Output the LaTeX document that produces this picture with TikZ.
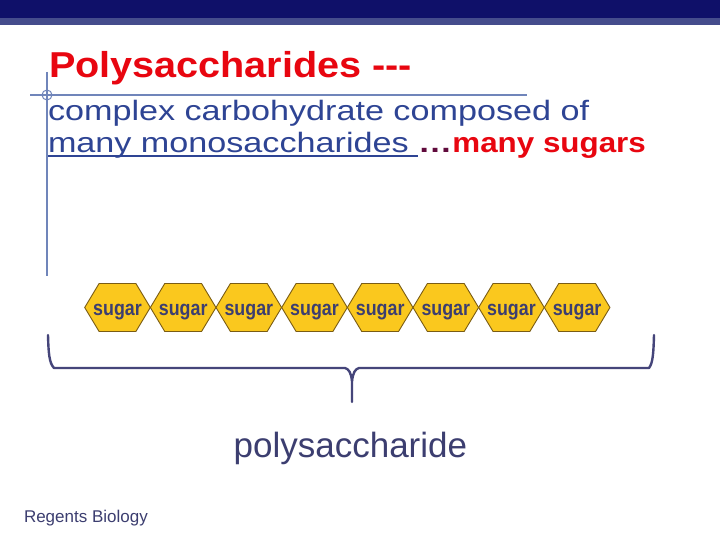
\documentclass[tikz,border=0pt]{standalone}
\usepackage{fontspec}
\setmainfont{Liberation Sans}
\newfontfamily\titlefont[FakeStretch=1.1]{Liberation Sans}
\newfontfamily\bodyfont[FakeStretch=1.22]{Liberation Sans}
\newfontfamily\redbodyfont[FakeStretch=1.12]{Liberation Sans}
\newfontfamily\hexfont[FakeStretch=0.85]{Liberation Sans}
\usetikzlibrary{positioning}
\definecolor{barnavy}{RGB}{15,16,105}
\definecolor{barband}{RGB}{69,76,140}
\definecolor{guide}{RGB}{112,133,186}
\definecolor{titlered}{RGB}{232,6,16}
\definecolor{bodyblue}{RGB}{46,68,148}
\definecolor{dotmaroon}{RGB}{96,10,60}
\definecolor{hexfill}{RGB}{250,200,30}
\definecolor{hexline}{RGB}{122,92,20}
\definecolor{slate}{RGB}{60,62,112}
\definecolor{bracecol}{RGB}{69,69,122}

\begin{document}
\begin{tikzpicture}[x=1pt, y=-1pt,
  every node/.style={inner sep=0pt, outer sep=0pt},
  titletext/.style={text=titlered, font=\titlefont\bfseries\fontsize{36}{40}\selectfont},
  bodytext/.style={text=bodyblue, font=\bodyfont\fontsize{28}{32}\selectfont},
  hexcell/.style={draw=hexline, fill=hexfill, line width=0.9pt, line join=miter},
  sugartext/.style={text=slate, font=\hexfont\bfseries\fontsize{21}{24}\selectfont},
  guideline/.style={draw=guide, line width=1.5pt},
  bracestroke/.style={draw=bracecol, line width=2.4pt, line cap=round, line join=round}]
  \useasboundingbox[fill=white] (0,0) rectangle (720,540);

  \fill[barnavy] (0,0) rectangle (720,18);
  \fill[barband] (0,18) rectangle (720,25);

  \draw[guideline] (30,95) -- (527,95);
  \draw[guideline] (47,72) -- (47,276);
  \draw[draw=guide, line width=1pt] (47,95) circle[radius=5pt];

  \node[titletext, anchor=base west] (title) at (49,78) {Polysaccharides ---};
  \node[bodytext, anchor=base west] (line1) at (48,121) {complex carbohydrate composed of};
  \node[bodytext, anchor=base west] (mono) at (48,153) {many monosaccharides\ \null};
  \node[text=dotmaroon, font=\bodyfont\bfseries\fontsize{28}{32}\selectfont, base right=0pt of mono] (dots) {…};
  \node[text=titlered, font=\redbodyfont\bfseries\fontsize{28}{32}\selectfont, base right=0pt of dots] (sugars) {many sugars};
  \draw[draw=bodyblue, line width=1.8pt] ([yshift=-3pt]mono.base west) -- ([yshift=-3pt]mono.base east);

  \foreach \i in {1,...,8} {
    \pgfmathsetmacro\cx{117.5+(\i-1)*65.66}
    \draw[hexcell] ({\cx-32.8},307.5) -- ({\cx-18.4},283.5) -- ({\cx+18.4},283.5)
      -- ({\cx+32.8},307.5) -- ({\cx+18.4},331.5) -- ({\cx-18.4},331.5) -- cycle;
    \node[sugartext, anchor=base] (sugar\i) at (\cx,315) {sugar};
  }

  \coordinate (braceleft) at (48,335);
  \coordinate (braceright) at (654,335);
  \coordinate (bracetip) at (352,402);
  \draw[bracestroke] (braceleft) .. controls (48.5,352) and (49,363) .. (54,368) -- (345,368)
    .. controls (349,369) and (351,373) .. (352,381) -- (bracetip);
  \draw[bracestroke] (braceright) .. controls (653.5,352) and (653,363) .. (649,368) -- (359,368)
    .. controls (355,369) and (353,373) .. (352,381);

  \node[text=slate, font=\fontsize{35}{40}\selectfont, anchor=base] (poly) at (350.4,457.7) {polysaccharide};
  \node[text=slate, font=\fontsize{17}{20}\selectfont, anchor=base west] (footer) at (24,522) {Regents Biology};
\end{tikzpicture}
\end{document}
